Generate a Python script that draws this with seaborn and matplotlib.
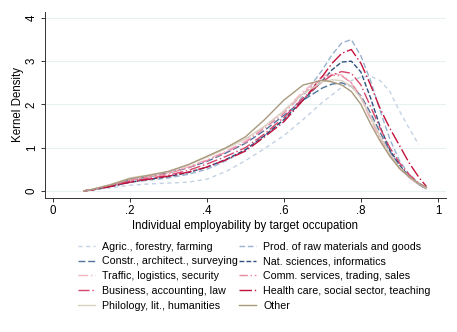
import matplotlib
matplotlib.use("Agg")
import matplotlib.pyplot as plt
import seaborn as sns
import pandas as pd
import numpy as np

# Evaluation grid of the kernel density estimates
xs = [0.08, 0.10, 0.15, 0.20, 0.25, 0.30, 0.35, 0.40, 0.45, 0.50, 0.55, 0.60, 0.65,
      0.70, 0.725, 0.75, 0.775, 0.80, 0.825, 0.85, 0.875, 0.90, 0.925, 0.95, 0.97]

agric = [0, 0.02, 0.07, 0.13, 0.16, 0.18, 0.20, 0.27, 0.45, 0.70, 0.98, 1.28, 1.65,
         2.05, 2.22, 2.40, 2.55, 2.63, 2.65, 2.55, 2.30, 1.85, 1.45, 1.07, np.nan]
prod_raw = [0, 0.02, 0.10, 0.20, 0.25, 0.30, 0.38, 0.50, 0.70, 0.95, 1.28, 1.65, 2.20,
            2.80, 3.15, 3.42, 3.50, 3.12, 2.55, 1.85, 1.20, 0.70, 0.38, 0.18, 0.07]
constr = [0, 0.03, 0.13, 0.25, 0.33, 0.42, 0.53, 0.68, 0.88, 1.10, 1.40, 1.75, 2.10,
          2.38, 2.47, 2.50, 2.42, 2.20, 1.80, 1.35, 0.92, 0.58, 0.32, 0.15, 0.05]
nat_sci = [0, 0.02, 0.10, 0.20, 0.27, 0.33, 0.42, 0.55, 0.73, 0.95, 1.28, 1.65, 2.10,
           2.55, 2.80, 2.98, 3.00, 2.75, 2.15, 1.48, 0.95, 0.60, 0.33, 0.15, 0.05]
traffic = [0, 0.03, 0.14, 0.27, 0.34, 0.42, 0.55, 0.72, 0.92, 1.15, 1.48, 1.85, 2.30,
           2.65, 2.72, 2.68, 2.50, 2.15, 1.65, 1.20, 0.82, 0.52, 0.30, 0.15, 0.06]
comm = [0, 0.03, 0.13, 0.25, 0.32, 0.40, 0.53, 0.70, 0.90, 1.12, 1.45, 1.80, 2.25,
        2.60, 2.68, 2.66, 2.50, 2.18, 1.70, 1.25, 0.86, 0.55, 0.32, 0.16, 0.06]
business = [0, 0.02, 0.11, 0.22, 0.29, 0.36, 0.47, 0.62, 0.80, 1.00, 1.32, 1.70, 2.15,
            2.52, 2.68, 2.76, 2.72, 2.45, 1.95, 1.45, 1.00, 0.65, 0.38, 0.18, 0.07]
health = [0, 0.02, 0.10, 0.20, 0.27, 0.34, 0.43, 0.55, 0.72, 0.92, 1.25, 1.60, 2.10,
          2.65, 2.95, 3.18, 3.27, 2.95, 2.45, 1.90, 1.45, 1.05, 0.65, 0.32, 0.10]
philology = [0, 0.03, 0.15, 0.30, 0.37, 0.45, 0.60, 0.78, 0.98, 1.20, 1.50, 1.85, 2.25,
             2.52, 2.57, 2.55, 2.42, 2.15, 1.72, 1.25, 0.85, 0.55, 0.32, 0.16, 0.06]
other = [0, 0.03, 0.14, 0.28, 0.36, 0.45, 0.60, 0.80, 1.00, 1.25, 1.65, 2.10, 2.45,
         2.56, 2.52, 2.45, 2.30, 2.00, 1.55, 1.15, 0.80, 0.52, 0.33, 0.17, 0.08]

labels = ["Agric., forestry, farming", "Prod. of raw materials and goods",
          "Constr., architect., surveying", "Nat. sciences, informatics",
          "Traffic, logistics, security", "Comm. services, trading, sales",
          "Business, accounting, law", "Health care, social sector, teaching",
          "Philology, lit., humanities", "Other"]
series = [agric, prod_raw, constr, nat_sci, traffic, comm, business, health, philology, other]

palette = ["#c3d2e4", "#98b1cf", "#52749c", "#2b527f",
           "#f4b4c4", "#e98aa3", "#d6456a", "#c4123d",
           "#d9d0c0", "#a99a7e"]
dashes = [(3, 2.5), (4, 2), (5, 2), (3.5, 1.5),
          (7, 2, 1, 2), (6, 2, 1, 2), (8, 2, 1, 2), (9, 2, 1, 2),
          (), ()]

plt.rcParams["font.family"] = ["Liberation Sans", "DejaVu Sans"]

fig = plt.figure(figsize=(4.57, 3.32), dpi=100)
ax = fig.add_axes([0.098, 0.404, 0.878, 0.56])

for lab, ys, col, ds in zip(labels, series, palette, dashes):
    df = pd.DataFrame({"x": xs, "y": ys}).dropna()
    sns.lineplot(data=df, x="x", y="y", ax=ax, color=col, linewidth=1.0,
                 label=lab, sort=False)
    if ds:
        ax.lines[-1].set_dashes(ds)

ax.set_xlim(-0.021, 1.021)
ax.set_ylim(-0.162, 4.139)
ax.set_xticks([0, 0.2, 0.4, 0.6, 0.8, 1.0])
ax.set_xticklabels(["0", ".2", ".4", ".6", ".8", "1"], fontsize=8.3)
ax.set_yticks([0, 1, 2, 3, 4])
ax.set_yticklabels(["0", "1", "2", "3", "4"], fontsize=8.3, rotation=90, va="center")
ax.tick_params(length=3, width=0.7, color="#333333", pad=2)
ax.grid(axis="y", color="#e8f0f2", linewidth=0.8)
ax.set_axisbelow(True)
for s in ["top", "right"]:
    ax.spines[s].set_visible(False)
for s in ["left", "bottom"]:
    ax.spines[s].set_color("#333333")
    ax.spines[s].set_linewidth(0.7)
ax.set_xlabel("Individual employability by target occupation", fontsize=8.3, labelpad=2)
ax.set_ylabel("Kernel Density", fontsize=8.3, labelpad=1)

# legend reads row by row: reorder for matplotlib's column filling
handles, labs = ax.get_legend_handles_labels()
order = [0, 2, 4, 6, 8, 1, 3, 5, 7, 9]
ax.legend([handles[i] for i in order], [labs[i] for i in order],
          loc="upper left", bbox_to_anchor=(0.072, -0.212), ncol=2, frameon=False,
          fontsize=7.7, handlelength=1.6, handletextpad=0.65, columnspacing=0.1,
          labelspacing=0.45, borderaxespad=0)

fig.savefig("out.png", dpi=100)
